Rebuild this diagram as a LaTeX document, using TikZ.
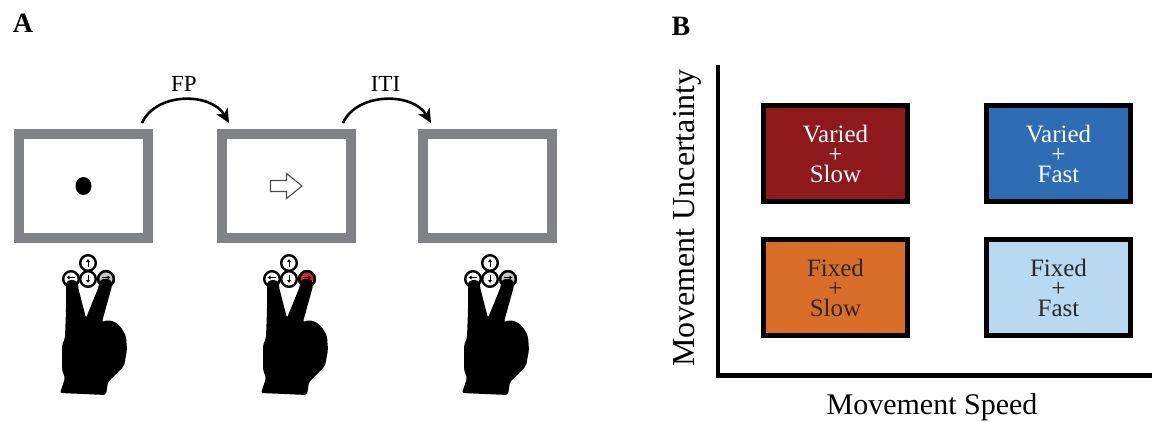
\documentclass[tikz,border=0pt]{standalone}
\usepackage{fontspec}
\setmainfont{Liberation Serif}
\usepackage{tikz}
\usetikzlibrary{positioning, arrows.meta}
\definecolor{screengray}{RGB}{128,130,133}
\definecolor{varslow}{RGB}{142,25,28}
\definecolor{varfast}{RGB}{46,108,180}
\definecolor{fixslow}{RGB}{217,110,40}
\definecolor{fixfast}{RGB}{185,217,240}
\definecolor{darktext}{RGB}{40,40,40}
\definecolor{pressred}{RGB}{228,32,36}
\tikzset{
  screen/.style={
    draw=screengray, line width=10pt, fill=white,
    minimum width=129pt, minimum height=104pt, inner sep=0pt
  },
  cue/.style={draw=black!70, line width=1.1pt, fill=white},
  flow/.style={line width=2.6pt, -{Stealth[length=14pt, width=13pt, inset=4pt]}},
  flow label/.style={font=\fontsize{23}{25}\selectfont, inner sep=0pt, anchor=base},
  cond/.style={
    draw=black, line width=5pt, minimum width=144pt, minimum height=96pt,
    inner sep=0pt, align=center, font=\fontsize{25}{20}\selectfont
  },
  axis label/.style={font=\fontsize{30}{32}\selectfont, inner sep=0pt},
  panel label/.style={font=\fontsize{28}{30}\selectfont\bfseries, inner sep=0pt},
  keycap/.style={draw=black, line width=2.4pt, fill=white},
  keycap arrow/.style={line width=0.9pt, -{Triangle[length=3pt, width=3.6pt]}},
  press/.store in=\presscol, press=black!22,
  hand/.pic={
    % keypad
    \foreach \kx/\ky in {0/-16, -17/0, 0/0}
      \draw[keycap] (\kx,\ky) circle[radius=7.8pt];
    \draw[keycap] (18,0) circle[radius=7.8pt];
    \begin{scope}
      \clip (18,0) circle[radius=7.8pt];
      \fill[\presscol] (9,-9) rectangle (27,2);
    \end{scope}
    \draw[line width=2.4pt] (18,0) circle[radius=7.8pt];
    \draw[keycap arrow] (0,-12) -- (0,-20);
    \draw[keycap arrow] (0,-4) -- (0,4);
    \draw[keycap arrow] (-13,-1.5) -- (-21.5,-1.5);
    \draw[keycap arrow] (14,-1.5) -- (22.5,-1.5);
    % two fingers down on the keys
    \fill[rounded corners=2pt] (-22,8) .. controls (-22,-1) and (-10,-1) .. (-10,8)
      -- (-2,39) -- (11,7) .. controls (11,-2) and (24,-2) .. (24,7)
      -- (14,43) -- (20,41) -- (27,43) -- (33,48) -- (38,57) -- (39,71)
      -- (36,87) -- (30,93) -- (20,103) -- (18,116) -- (-28,114) -- (-23,99)
      -- (-26,91) -- (-26,66) -- (-23,59) -- (-22,31) -- cycle;
  },
}

\begin{document}
\begin{tikzpicture}[x=1pt, y=-1pt]
  \useasboundingbox (0,0) rectangle (1154,421);

  % A: trial sequence
  \node[panel label] (pa) at (23,23) {A};
  \node[screen] (scr1) at (83.5,186) {};
  \node[screen, right=64pt of scr1] (scr2) {};
  \node[screen, right=62pt of scr2] (scr3) {};

  \fill (scr1) ellipse[x radius=8pt, y radius=9pt];
  \draw[cue, shift={(scr2)}] (-16,-5.5) -- (0,-5.5) -- (0,-12.5) -- (15.5,0)
    -- (0,12.5) -- (0,5.5) -- (-16,5.5) -- cycle;

  \coordinate (fp0) at ([xshift=-11pt, yshift=6pt]scr1.north east);
  \coordinate (fp1) at ([xshift=12pt, yshift=6pt]scr2.north west);
  \coordinate (iti0) at ([xshift=-13pt, yshift=6pt]scr2.north east);
  \coordinate (iti1) at ([xshift=13pt, yshift=6pt]scr3.north west);
  \draw[flow] (fp0) .. controls +(14,-31) and +(-18,-31) .. (fp1)
    node[flow label, midway, yshift=8pt] {FP};
  \draw[flow] (iti0) .. controls +(14,-31) and +(-18,-31) .. (iti1)
    node[flow label, midway, yshift=8pt] {ITI};

  \pic at ([xshift=4.5pt, yshift=-36pt]scr1.south) {hand};
  \pic[press=pressred] at ([xshift=2.5pt, yshift=-36pt]scr2.south) {hand};
  \pic at ([xshift=2.5pt, yshift=-36pt]scr3.south) {hand};

  % B: conditions
  \node[panel label] (pb) at (681,26) {B};
  \node[cond, fill=varslow, text=white] (vs) at (835.5,153.5) {Varied\\+\\Slow};
  \node[cond, fill=varfast, text=white, right=74pt of vs] (vf) {Varied\\+\\Fast};
  \node[cond, fill=fixslow, text=darktext, below=33pt of vs] (fs) {Fixed\\+\\Slow};
  \node[cond, fill=fixfast, text=darktext, below=33pt of vf] (ff) {Fixed\\+\\Fast};

  \coordinate (ytop) at (718,65);
  \coordinate (origin) at (718,375.5);
  \coordinate (xend) at (1152,375.5);
  \draw[line width=4.5pt] (ytop) -- (origin) -- (xend);
  \node[axis label, anchor=base] (xlab) at (932,414) {Movement Speed};
  \node[axis label, font=\fontsize{32}{34}\selectfont, rotate=90, anchor=south] (ylab)
    at (702,218) {Movement Uncertainty};
\end{tikzpicture}
\end{document}
